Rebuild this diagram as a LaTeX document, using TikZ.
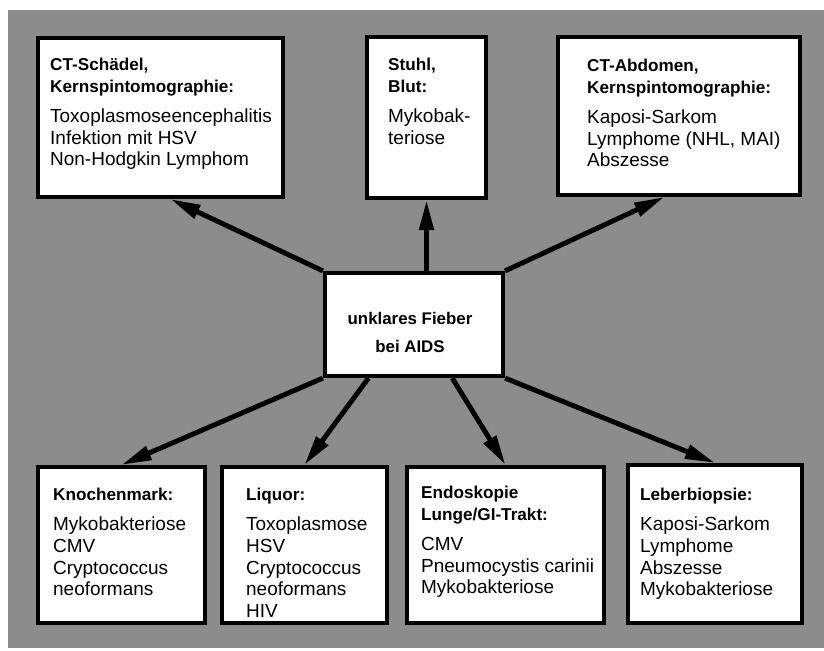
\documentclass[tikz,border=0pt]{standalone}
\usepackage{fontspec}
\setmainfont{Liberation Sans}
\usetikzlibrary{arrows.meta,calc,fit}

\tikzset{
  hintergrund/.style={fill=black!45},
  kasten/.style={draw, line width=3pt, fill=white, inner sep=0pt},
  inhalt/.style={anchor=north west, inner sep=0pt, align=left, font=\fontsize{13.5}{15.4}\selectfont},
  pfeil/.style={line width=3.5pt, -{Triangle[length=0.75cm, width=0.35cm]}}
}
\newcommand{\kopf}[1]{{\fontsize{12.2}{15.4}\selectfont\bfseries #1}}

\begin{document}
\begin{tikzpicture}[x=0.025cm,y=-0.025cm]

\useasboundingbox (0,0) rectangle (824,651);
\fill [hintergrund] (8,10) rectangle (824,648);

% obere Reihe
\node [kasten, fit={(38,38) (283,197)}] (schaedel) {};
\node [kasten, fit={(367,37) (486,198)}] (stuhl) {};
\node [kasten, fit={(558,37) (800,195)}] (abdomen) {};

% Mitte
\node [kasten, fit={(325,273) (503,376)}] (fieber) {};
\node [align=center, inner sep=0pt, font=\fontsize{12}{15.4}\selectfont\bfseries]
  (fiebertext) at ($(fieber.center)+(-4,8)$) {unklares Fieber\\[4pt] bei AIDS};

% untere Reihe
\node [kasten, fit={(38,467) (205,623)}] (knochen) {};
\node [kasten, fit={(222,467) (387,623)}] (liquor) {};
\node [kasten, fit={(407,467) (604,623)}] (endo) {};
\node [kasten, fit={(628,465) (802,623)}] (leber) {};

% Texte
\node [inhalt] (schaedeltext) at ([shift={(14,22)}]schaedel.north west)
  {\kopf{CT-Schädel,}\\ \kopf{Kernspintomographie:}\\[6pt]
   Toxoplasmoseencephalitis\\ Infektion mit HSV\\ Non-Hodgkin Lymphom};
\node [inhalt] (stuhltext) at ([shift={(23,23)}]stuhl.north west)
  {\kopf{Stuhl,}\\ \kopf{Blut:}\\[6pt] Mykobak-\\ teriose};
\node [inhalt] (abdomentext) at ([shift={(31,24)}]abdomen.north west)
  {\kopf{CT-Abdomen,}\\ \kopf{Kernspintomographie:}\\[6pt]
   Kaposi-Sarkom\\ Lymphome (NHL, MAI)\\ Abszesse};
\node [inhalt] (knochentext) at ([shift={(17,23)}]knochen.north west)
  {\kopf{Knochenmark:}\\[6pt] Mykobakteriose\\ CMV\\ Cryptococcus\\ neoformans};
\node [inhalt] (liquortext) at ([shift={(26,23)}]liquor.north west)
  {\kopf{Liquor:}\\[6pt] Toxoplasmose\\ HSV\\ Cryptococcus\\ neoformans\\ HIV};
\node [inhalt] (endotext) at ([shift={(16,21)}]endo.north west)
  {\kopf{Endoskopie}\\ \kopf{Lunge/GI-Trakt:}\\[6pt] CMV\\ Pneumocystis carinii\\ Mykobakteriose};
\node [inhalt] (lebertext) at ([shift={(14,25)}]leber.north west)
  {\kopf{Leberbiopsie:}\\[6pt] Kaposi-Sarkom\\ Lymphome\\ Abszesse\\ Mykobakteriose};

% Pfeile
\draw [pfeil] (fieber.north west) -- ($(schaedel.south west)!0.54!(schaedel.south east)$);
\draw [pfeil] (fieber.north -| stuhl.south) -- (stuhl.south);
\draw [pfeil] (fieber.north east) -- ($(abdomen.south west)!0.44!(abdomen.south east)$);
\draw [pfeil] (fieber.south west) -- (knochen.north);
\draw [pfeil] ($(fieber.south west)!0.25!(fieber.south east)$) -- (liquor.north);
\draw [pfeil] ($(fieber.south west)!0.71!(fieber.south east)$) -- (endo.north);
\draw [pfeil] (fieber.south east) -- (leber.north);

\end{tikzpicture}
\end{document}
